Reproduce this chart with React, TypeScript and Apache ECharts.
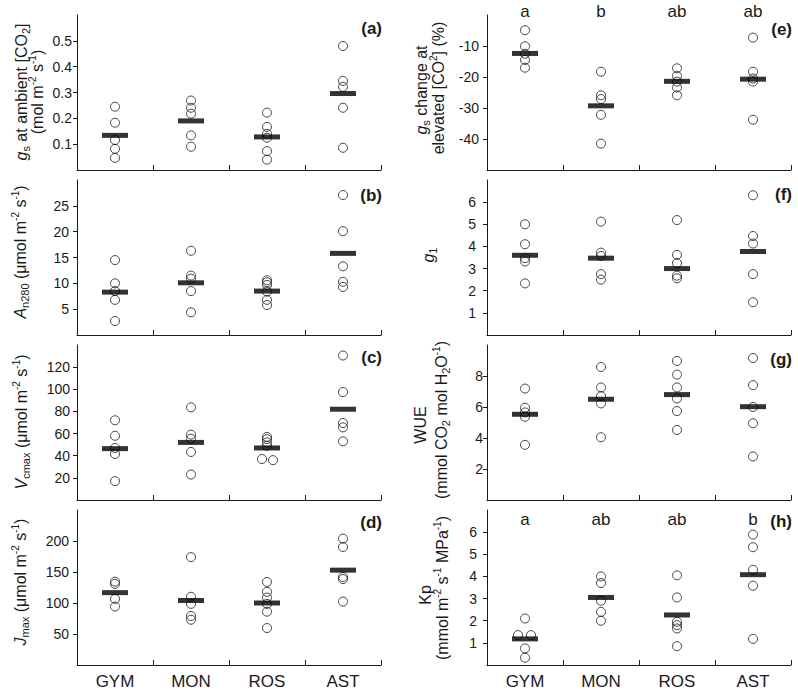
import React, { useEffect, useRef } from 'react';
import * as echarts from 'echarts';

// ---------- data ----------
const categories = ['GYM', 'MON', 'ROS', 'AST'];

// (a) gs at ambient [CO2]
const gsAmbientPoints = [
  [0.245, 0.183, 0.116, 0.082, 0.047],
  [0.269, 0.241, 0.218, 0.134, 0.09],
  [0.222, 0.167, 0.14, 0.125, 0.073, 0.04],
  [0.48, 0.345, 0.322, 0.241, 0.086],
];
const gsAmbientMeans = [0.134, 0.19, 0.128, 0.296];
const gsAmbientTicks = [0.1, 0.2, 0.3, 0.4, 0.5];

// (b) An280
const an280Points = [
  [14.5, 10.0, 8.5, 6.8, 2.7],
  [16.3, 11.5, 10.9, 8.5, 4.4],
  [10.6, 10.2, 9.7, 8.4, 6.8, 5.8],
  [27.1, 20.1, 13.3, 10.3, 9.3],
];
const an280Means = [8.3, 10.1, 8.5, 15.8];
const an280Ticks = [5, 10, 15, 20, 25];

// (c) Vcmax
const vcmaxPoints = [
  [72, 58, 47, 41.6, 17],
  [83.7, 59, 55.4, 43.4, 23],
  [57, 55, 52, 49, 37, 36],
  [130.5, 97.5, 69.5, 65.6, 53],
];
const vcmaxMeans = [46.4, 52, 47, 82];
const vcmaxTicks = [20, 40, 60, 80, 100, 120];

// (d) Jmax
const jmaxPoints = [
  [134.5, 131, 106.6, 94.3],
  [174, 110, 98.6, 79, 73],
  [134, 118, 108.7, 98.6, 86, 59.6],
  [203.8, 190.4, 142, 138.6, 102.3],
];
const jmaxMeans = [116.7, 104, 100, 153];
const jmaxTicks = [50, 100, 150, 200];

// (e) gs change at elevated [CO2] (%)
const gsChangePoints = [
  [-4.9, -10.1, -12.5, -14.5, -17],
  [-18.3, -25.9, -27.1, -32.2, -41.5],
  [-17.2, -19.6, -21.5, -23.4, -25.9],
  [-7.3, -18.3, -20.5, -21.5, -33.8],
];
const gsChangeMeans = [-12.4, -29.3, -21.4, -20.7];
const gsChangeTicks = [-40, -30, -20, -10];
const gsChangeLetters = ['a', 'b', 'ab', 'ab'];

// (f) g1
const g1Points = [
  [5.0, 4.1, 3.47, 3.32, 2.33],
  [5.12, 3.72, 3.57, 2.75, 2.5],
  [5.19, 3.62, 3.25, 2.68, 2.56],
  [6.31, 4.47, 4.13, 2.75, 1.48],
];
const g1Means = [3.6, 3.47, 3.0, 3.77];
const g1Ticks = [1, 2, 3, 4, 5, 6];

// (g) WUE
const wuePoints = [
  [7.19, 5.95, 5.65, 5.37, 3.56],
  [8.58, 7.26, 6.7, 6.23, 4.05],
  [8.97, 8.09, 7.26, 6.55, 5.74, 4.52],
  [9.16, 7.41, 6.0, 4.95, 2.81],
];
const wueMeans = [5.53, 6.5, 6.8, 6.02];
const wueTicks = [2, 4, 6, 8];

// (h) Kp
const kpPoints = [
  [2.1, 1.35, 1.35, 0.75, 0.33],
  [4.0, 3.7, 2.9, 2.4, 2.0],
  [4.05, 3.05, 1.95, 1.8, 1.65, 0.85],
  [5.89, 5.32, 4.3, 3.58, 1.18],
];
const kpMeans = [1.18, 3.05, 2.26, 4.08];
const kpTicks = [1, 2, 3, 4, 5, 6];
const kpLetters = ['a', 'ab', 'ab', 'b'];

// ---------- styling ----------
const FONT = "'Liberation Sans', Arial, Helvetica, sans-serif";
const INK = '#1a1a1a';

// horizontal pixel offsets for overlapping circles (style only)
const jitter = [
  { panel: 2, cat: 2, idx: 4, dx: -5 },
  { panel: 2, cat: 2, idx: 5, dx: 6 },
  { panel: 7, cat: 0, idx: 1, dx: -7 },
  { panel: 7, cat: 0, idx: 2, dx: 6 },
];

const panels = [
  { tag: '(a)', points: gsAmbientPoints, means: gsAmbientMeans, ticks: gsAmbientTicks, min: 0, max: 0.6, interval: 0.1, margin: 5, tagY: 28 },
  { tag: '(b)', points: an280Points, means: an280Means, ticks: an280Ticks, min: 0, max: 30, interval: 5, margin: 8, tagY: 195 },
  { tag: '(c)', points: vcmaxPoints, means: vcmaxMeans, ticks: vcmaxTicks, min: 0, max: 140, interval: 20, margin: 7, tagY: 357 },
  { tag: '(d)', points: jmaxPoints, means: jmaxMeans, ticks: jmaxTicks, min: 0, max: 250, interval: 50, margin: 8, tagY: 522 },
  { tag: '(e)', points: gsChangePoints, means: gsChangeMeans, ticks: gsChangeTicks, min: -50, max: 0, interval: 10, margin: 8, tagY: 29 },
  { tag: '(f)', points: g1Points, means: g1Means, ticks: g1Ticks, min: 0, max: 7, interval: 1, margin: 11, tagY: 194 },
  { tag: '(g)', points: wuePoints, means: wueMeans, ticks: wueTicks, min: 0, max: 10, interval: 2, margin: 4, tagY: 359 },
  { tag: '(h)', points: kpPoints, means: kpMeans, ticks: kpTicks, min: 0, max: 7, interval: 1, margin: 10, tagY: 521 },
];

const COL_LEFT = [77, 487];
const ROW_TOP = [15, 180, 345, 510];
const W = 304;
const H = 155;

const richStyles = {
  n: { fontSize: 16, fontFamily: FONT, fill: INK, lineHeight: 20 },
  i: { fontSize: 16, fontFamily: FONT, fontStyle: 'italic', fill: INK, lineHeight: 20 },
  sub: { fontSize: 11, fontFamily: FONT, fill: INK, lineHeight: 11, verticalAlign: 'bottom' },
  sup: { fontSize: 10, fontFamily: FONT, fill: INK, lineHeight: 10, verticalAlign: 'top' },
};

const titles = [
  { x: 21, y: 92, text: '{i|g}{sub|s}{n| at ambient [CO}{sub|2}{n|]}' },
  { x: 37, y: 92, text: '{n|(mol m}{sup|-2}{n| s}{sup|-1}{n|)}' },
  { x: 20, y: 252, text: '{i|A}{sub|n280}{n| (μmol m}{sup|-2}{n| s}{sup|-1}{n|)}' },
  { x: 21, y: 422, text: '{i|V}{sub|cmax}{n| (μmol m}{sup|-2}{n| s}{sup|-1}{n|)}' },
  { x: 20, y: 582, text: '{i|J}{sub|max}{n| (μmol m}{sup|-2}{n| s}{sup|-1}{n|)}' },
  { x: 421, y: 90, text: '{i|g}{sub|s}{n| change at}' },
  { x: 438, y: 88, text: '{n|elevated [CO}{sup|2}{n|] (%)}' },
  { x: 428, y: 255, text: '{i|g}{sub|1}' },
  { x: 420, y: 425, text: '{n|WUE}' },
  { x: 441, y: 420, text: '{n|(mmol CO}{sub|2}{n| mol H}{sub|2}{n|O}{sup|-1}{n|)}' },
  { x: 425, y: 595, text: '{n|Kp}' },
  { x: 442, y: 588, text: '{n|(mmol m}{sup|-2}{n| s}{sup|-1}{n| MPa}{sup|-1}{n|)}' },
];

function buildOption() {
  const grid = panels.map((_, i) => ({
    left: COL_LEFT[Math.floor(i / 4)],
    top: ROW_TOP[i % 4],
    width: W,
    height: H,
  }));

  const xAxis: any[] = panels.map((_, i) => ({
    type: 'category',
    gridIndex: i,
    position: 'bottom',
    data: categories,
    boundaryGap: true,
    axisLine: { show: true, onZero: false, lineStyle: { color: INK, width: 1 } },
    axisTick: { show: true, inside: true, length: 5, lineStyle: { color: INK, width: 1 } },
    axisLabel: { show: i % 4 === 3, fontSize: 17, fontFamily: FONT, color: INK, margin: 8 },
    splitLine: { show: false },
  }));
  const letterAxis = (gridIndex: number, letters: string[], margin: number) => ({
    type: 'category',
    gridIndex,
    position: 'top',
    data: letters,
    boundaryGap: true,
    axisLine: { show: false },
    axisTick: { show: false },
    axisLabel: { show: true, fontSize: 17, fontFamily: FONT, color: INK, margin },
    splitLine: { show: false },
  });
  xAxis.push(letterAxis(4, gsChangeLetters, -5));
  xAxis.push(letterAxis(7, kpLetters, -18));

  const yAxis = panels.map((p, i) => ({
    type: 'value',
    gridIndex: i,
    min: p.min,
    max: p.max,
    interval: p.interval,
    axisLine: { show: true, onZero: false, lineStyle: { color: INK, width: 1 } },
    axisTick: { show: true, length: 4, customValues: p.ticks, lineStyle: { color: INK, width: 1 } },
    axisLabel: {
      show: true,
      customValues: p.ticks,
      fontSize: 14,
      fontFamily: FONT,
      color: INK,
      margin: p.margin,
    },
    splitLine: { show: false },
  }));

  const series: any[] = [];
  panels.forEach((p, i) => {
    const data: any[] = [];
    p.points.forEach((vals, c) => {
      vals.forEach((v, k) => {
        const j = jitter.find((q) => q.panel === i && q.cat === c && q.idx === k);
        data.push(j ? { value: [c, v], symbolOffset: [j.dx, 0] } : { value: [c, v] });
      });
    });
    series.push({
      type: 'scatter',
      xAxisIndex: i,
      yAxisIndex: i,
      symbol: 'circle',
      symbolSize: 9,
      itemStyle: { color: 'rgba(255,255,255,0)', borderColor: INK, borderWidth: 1 },
      data,
      z: 2,
      silent: true,
    });
    series.push({
      type: 'scatter',
      xAxisIndex: i,
      yAxisIndex: i,
      symbol: 'rect',
      symbolSize: [26, 5],
      itemStyle: { color: '#000' },
      data: p.means.map((m, c) => [c, m]),
      z: 3,
      silent: true,
    });
  });

  const graphic: any[] = [];
  titles.forEach((t) => {
    graphic.push({
      type: 'text',
      x: t.x,
      y: t.y,
      rotation: Math.PI / 2,
      silent: true,
      style: {
        text: t.text,
        rich: richStyles,
        align: 'center',
        verticalAlign: 'middle',
        textAlign: 'center',
        textVerticalAlign: 'middle',
        fill: INK,
        fontSize: 16,
        fontFamily: FONT,
      },
    });
  });
  panels.forEach((p, i) => {
    const col = Math.floor(i / 4);
    graphic.push({
      type: 'text',
      x: COL_LEFT[col] + W + 1,
      y: p.tagY,
      silent: true,
      style: {
        text: p.tag,
        fontSize: 17,
        fontWeight: 'bold',
        fontFamily: FONT,
        fill: INK,
        align: 'right',
        verticalAlign: 'middle',
        textAlign: 'right',
        textVerticalAlign: 'middle',
      },
    });
  });

  return {
    animation: false,
    backgroundColor: '#ffffff',
    grid,
    xAxis,
    yAxis,
    series,
    graphic,
  };
}

export default function App() {
  const ref = useRef<HTMLDivElement>(null);
  useEffect(() => {
    if (!ref.current) return;
    const chart = echarts.init(ref.current, null, { renderer: 'svg' });
    chart.setOption(buildOption() as any);
    return () => chart.dispose();
  }, []);
  return (
    <div
      ref={ref}
      style={{ position: 'absolute', left: 0, top: 0, width: 798, height: 691, background: '#fff' }}
    />
  );
}
